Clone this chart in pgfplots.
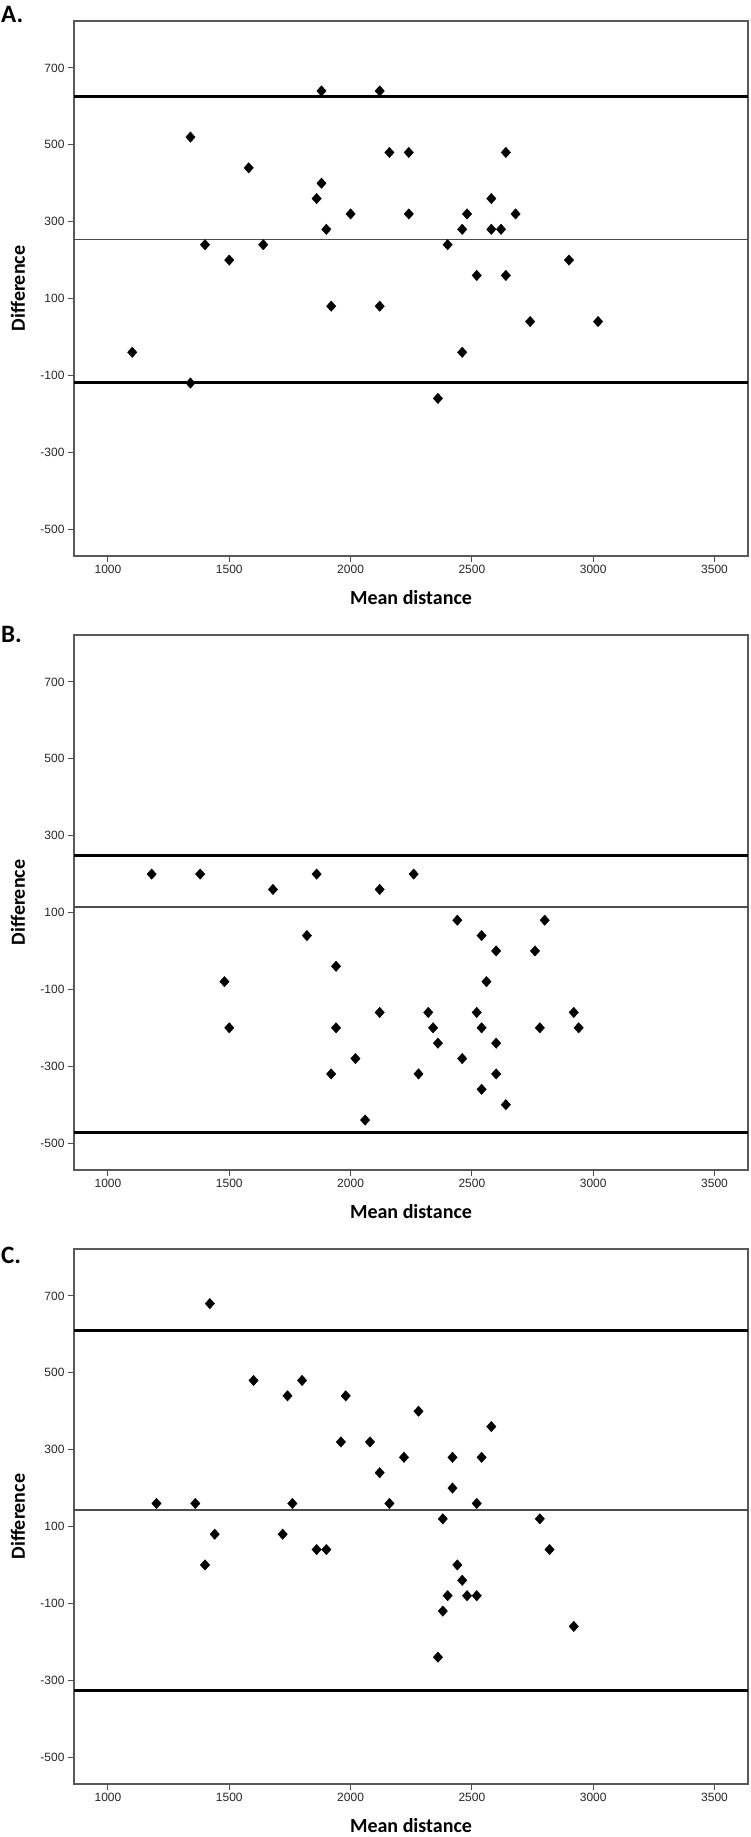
\documentclass[border=0pt]{standalone}
\usepackage{fontspec}
\setmainfont{Liberation Sans}
\newfontfamily\labfont{Carlito}
\usepackage{pgfplots}
\pgfplotsset{compat=1.18}

\pgfplotstableread{
x y
1100 -40
1340 -120
1340 520
1400 240
1500 200
1580 440
1640 240
1860 360
1880 400
1880 640
1900 280
1920 80
2000 320
2120 640
2120 80
2160 480
2240 480
2240 320
2360 -160
2400 240
2460 280
2460 -40
2480 320
2520 160
2580 360
2580 280
2620 280
2640 480
2640 160
2680 320
2740 40
2900 200
3020 40
}\dataA

\pgfplotstableread{
x y
1180 200
1380 200
1480 -80
1500 -200
1680 160
1820 40
1860 200
1920 -320
1940 -40
1940 -200
2020 -280
2060 -440
2120 160
2120 -160
2260 200
2280 -320
2320 -160
2340 -200
2360 -240
2440 80
2460 -280
2520 -160
2540 40
2540 -200
2540 -360
2560 -80
2600 0
2600 -240
2600 -320
2640 -400
2760 0
2780 -200
2800 80
2920 -160
2940 -200
}\dataB

\pgfplotstableread{
x y
1200 160
1360 160
1400 0
1420 680
1440 80
1600 480
1720 80
1740 440
1760 160
1800 480
1860 40
1900 40
1960 320
1980 440
2080 320
2120 240
2160 160
2220 280
2280 400
2360 -240
2380 120
2380 -120
2400 -80
2420 280
2420 200
2440 0
2460 -40
2480 -80
2520 160
2520 -80
2540 280
2580 360
2780 120
2820 40
2920 -160
}\dataC

\pgfplotsset{
 baplot/.style={
  scale only axis, width=674pt, height=535pt,
  xmin=860, xmax=3638, ymin=-570, ymax=822,
  xtick={1000,1500,...,3500}, ytick={-500,-300,...,700},
  tick align=outside, xtick pos=bottom, ytick pos=left,
  major tick length=6pt,
  axis line style={black!65, line width=1.2pt},
  every tick/.style={black!70, line width=1pt},
  tick label style={font=\fontsize{12}{14}\selectfont, text=black!85},
  /pgf/number format/assume math mode=true,
  /pgf/number format/1000 sep={},
  xlabel={Mean distance}, ylabel={Difference},
  label style={font=\labfont\bfseries\fontsize{20}{24}\selectfont},
  xlabel style={at={(axis description cs:0.5,-0.0915)}, anchor=base},
  ylabel style={at={(axis description cs:-0.0831,0.5)}, anchor=center},
  clip=false,
 },
 thickline/.style={black, line width=3.2pt, forget plot},
 meanline/.style={black!70, line width=1.3pt, forget plot},
 pts/.style={only marks, mark=diamond*, mark size=5.2pt,
   mark options={xscale=1.2, fill=black, draw=black}},
}

\begin{document}
\begin{tikzpicture}
\path[use as bounding box] (0,0) rectangle (750pt,-1837pt);

\begin{axis}[baplot, at={(74pt,-21pt)}, anchor=north west]
\addplot[thickline] coordinates {(860,626) (3638,626)};
\addplot[meanline] coordinates {(860,254) (3638,254)};
\addplot[thickline] coordinates {(860,-118) (3638,-118)};
\addplot[pts] table[x=x,y=y] {\dataA};
\end{axis}

\begin{axis}[baplot, at={(74pt,-635pt)}, anchor=north west]
\addplot[thickline] coordinates {(860,249) (3638,249)};
\addplot[meanline] coordinates {(860,114) (3638,114)};
\addplot[thickline] coordinates {(860,-473) (3638,-473)};
\addplot[pts] table[x=x,y=y] {\dataB};
\end{axis}

\begin{axis}[baplot, at={(74pt,-1249pt)}, anchor=north west]
\addplot[thickline] coordinates {(860,610) (3638,610)};
\addplot[meanline] coordinates {(860,143) (3638,143)};
\addplot[thickline] coordinates {(860,-327) (3638,-327)};
\addplot[pts] table[x=x,y=y] {\dataC};
\end{axis}

\node[anchor=west, inner sep=0pt] at (1pt,-14.5pt) {\labfont\bfseries\fontsize{25}{29}\selectfont A.};
\node[anchor=west, inner sep=0pt] at (1pt,-634.5pt) {\labfont\bfseries\fontsize{25}{29}\selectfont B.};
\node[anchor=west, inner sep=0pt] at (1pt,-1255pt) {\labfont\bfseries\fontsize{25}{29}\selectfont C.};
\end{tikzpicture}
\end{document}
